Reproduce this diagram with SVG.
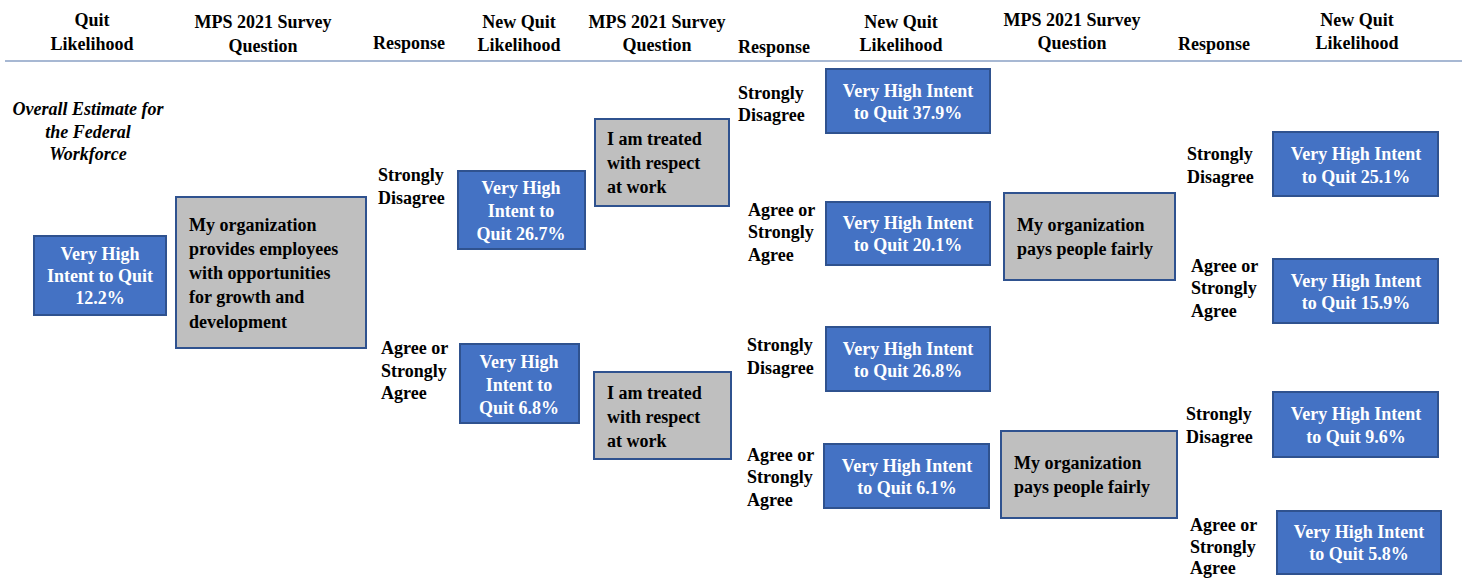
<svg xmlns="http://www.w3.org/2000/svg" width="1464" height="578" viewBox="0 0 1464 578" font-family="'Liberation Serif', 'Times New Roman', serif">
<style>
text{font-family:'Liberation Serif','Times New Roman',serif;font-weight:bold;font-size:18px;fill:#000}
.h{text-anchor:middle}
.w{fill:#fff;text-anchor:middle}
.it{font-style:italic;text-anchor:middle}
.blue{fill:#4472C4;stroke:#2F528F;stroke-width:2}
.gray{fill:#BFBFBF;stroke:#2F528F;stroke-width:2}
</style>
<rect width="1464" height="578" fill="#fff"/>
<g id="header">
<line x1="5" y1="61" x2="1462" y2="61" stroke="#A7B8D3" stroke-width="2"/>
<text class="h" x="92" y="26">Quit</text><text class="h" x="92" y="50">Likelihood</text>
<text class="h" x="263" y="28">MPS 2021 Survey</text><text class="h" x="263" y="52">Question</text>
<text class="h" x="409" y="49">Response</text>
<text class="h" x="519" y="28">New Quit</text><text class="h" x="519" y="51">Likelihood</text>
<text class="h" x="657" y="28">MPS 2021 Survey</text><text class="h" x="657" y="51">Question</text>
<text class="h" x="774" y="53">Response</text>
<text class="h" x="901" y="28">New Quit</text><text class="h" x="901" y="51">Likelihood</text>
<text class="h" x="1072" y="26">MPS 2021 Survey</text><text class="h" x="1072" y="49">Question</text>
<text class="h" x="1214" y="50">Response</text>
<text class="h" x="1357" y="26">New Quit</text><text class="h" x="1357" y="49">Likelihood</text>
</g>
<g id="overall"><text class="it" x="88" y="115">Overall Estimate for</text><text class="it" x="88" y="138">the Federal</text><text class="it" x="88" y="160">Workforce</text></g>
<g id="connectors"></g>
<g id="b0"><rect class="blue" x="34" y="236" width="132" height="79"/><text class="w" x="100" y="260">Very High</text><text class="w" x="100" y="282">Intent to Quit</text><text class="w" x="100" y="304">12.2%</text></g>
<g id="q0"><rect class="gray" x="176" y="197" width="190" height="151"/><text x="189" y="231">My organization</text><text x="189" y="255">provides employees</text><text x="189" y="279">with opportunities</text><text x="189" y="303">for growth and</text><text x="189" y="328">development</text></g>
<g id="r1"><text x="378" y="181">Strongly</text><text x="378" y="204">Disagree</text></g>
<g id="r2"><text x="381" y="354">Agree or</text><text x="381" y="377">Strongly</text><text x="381" y="399">Agree</text></g>
<g id="b1"><rect class="blue" x="458" y="171" width="127" height="78"/><text class="w" x="521" y="194">Very High</text><text class="w" x="521" y="217">Intent to</text><text class="w" x="521" y="240">Quit 26.7%</text></g>
<g id="b2"><rect class="blue" x="460" y="344" width="119" height="79"/><text class="w" x="519" y="368">Very High</text><text class="w" x="519" y="391">Intent to</text><text class="w" x="519" y="414">Quit 6.8%</text></g>
<g id="q1"><rect class="gray" x="595" y="119" width="134" height="87"/><text x="607" y="145">I am treated</text><text x="607" y="169">with respect</text><text x="607" y="193">at work</text></g>
<g id="q2"><rect class="gray" x="594" y="372" width="137" height="87"/><text x="607" y="399">I am treated</text><text x="607" y="423">with respect</text><text x="607" y="447">at work</text></g>
<g id="r3"><text x="738" y="99">Strongly</text><text x="738" y="121">Disagree</text></g>
<g id="r4"><text x="748" y="216">Agree or</text><text x="748" y="238">Strongly</text><text x="748" y="261">Agree</text></g>
<g id="r5"><text x="747" y="351">Strongly</text><text x="747" y="374">Disagree</text></g>
<g id="r6"><text x="747" y="461">Agree or</text><text x="747" y="483">Strongly</text><text x="747" y="506">Agree</text></g>
<g id="b3"><rect class="blue" x="826" y="69" width="164" height="64"/><text class="w" x="908" y="97">Very High Intent</text><text class="w" x="908" y="119">to Quit 37.9%</text></g>
<g id="b4"><rect class="blue" x="826" y="202" width="164" height="63"/><text class="w" x="908" y="229">Very High Intent</text><text class="w" x="908" y="251">to Quit 20.1%</text></g>
<g id="b5"><rect class="blue" x="826" y="327" width="164" height="64"/><text class="w" x="908" y="355">Very High Intent</text><text class="w" x="908" y="377">to Quit 26.8%</text></g>
<g id="b6"><rect class="blue" x="824" y="444" width="165" height="64"/><text class="w" x="907" y="472">Very High Intent</text><text class="w" x="907" y="494">to Quit 6.1%</text></g>
<g id="q3"><rect class="gray" x="1004" y="193" width="171" height="87"/><text x="1017" y="231">My organization</text><text x="1017" y="255">pays people fairly</text></g>
<g id="q4"><rect class="gray" x="1001" y="431" width="176" height="87"/><text x="1014" y="469">My organization</text><text x="1014" y="493">pays people fairly</text></g>
<g id="r7"><text x="1187" y="160">Strongly</text><text x="1187" y="183">Disagree</text></g>
<g id="r8"><text x="1191" y="272">Agree or</text><text x="1191" y="294">Strongly</text><text x="1191" y="317">Agree</text></g>
<g id="r9"><text x="1186" y="420">Strongly</text><text x="1186" y="443">Disagree</text></g>
<g id="r10"><text x="1190" y="531">Agree or</text><text x="1190" y="553">Strongly</text><text x="1190" y="574">Agree</text></g>
<g id="b7"><rect class="blue" x="1273" y="132" width="165" height="64"/><text class="w" x="1356" y="160">Very High Intent</text><text class="w" x="1356" y="183">to Quit 25.1%</text></g>
<g id="b8"><rect class="blue" x="1273" y="259" width="165" height="64"/><text class="w" x="1356" y="287">Very High Intent</text><text class="w" x="1356" y="309">to Quit 15.9%</text></g>
<g id="b9"><rect class="blue" x="1273" y="392" width="165" height="65"/><text class="w" x="1356" y="420">Very High Intent</text><text class="w" x="1356" y="443">to Quit 9.6%</text></g>
<g id="b10"><rect class="blue" x="1277" y="511" width="164" height="63"/><text class="w" x="1359" y="538">Very High Intent</text><text class="w" x="1359" y="560">to Quit 5.8%</text></g>
</svg>
